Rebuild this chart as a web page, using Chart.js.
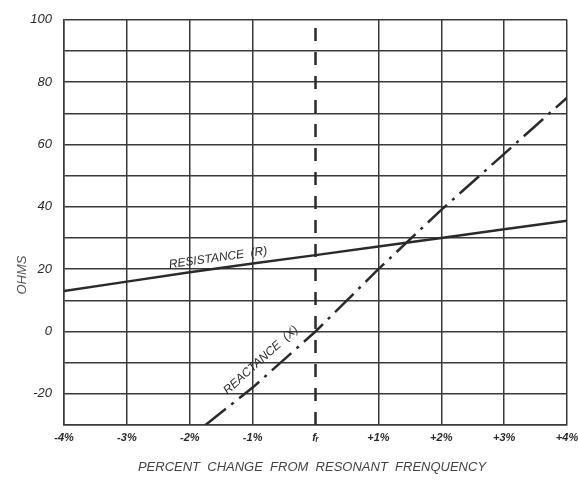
<!DOCTYPE html>
<html lang="en">
<head>
    <meta charset="UTF-8">
    <title>Resistance and Reactance near Resonance</title>
    <script src="https://cdn.jsdelivr.net/npm/chart.js"></script>
    <style>
        html, body {
            margin: 0;
            padding: 0;
            background-color: #ffffff;
        }

        .chart-container {
            position: relative;
            width: 578px;
            height: 483px;
        }
    </style>
</head>
<body>
    <div class="chart-container">
        <canvas id="ohms-chart"></canvas>
    </div>

    <script>
        // Values
        const percentTicks = [-4, -3, -2, -1, 0, 1, 2, 3, 4];
        const percentLabels = ['-4%', '-3%', '-2%', '-1%', 'fᵣ', '+1%', '+2%', '+3%', '+4%'];

        const resistanceX = [-4, -3, -2, -1, 0, 1, 2, 3, 4];
        const resistanceY = [13, 16, 19, 21.8, 24.5, 27.3, 30, 32.8, 35.5];

        const reactanceX = [-1.75, -1, 0, 1, 2, 3, 4];
        const reactanceY = [-30, -18, 0, 20, 39, 57, 75];

        const resonanceX = [0, 0];
        const resonanceY = [-30, 100];

        const ink = '#2a2a2a';
        const gridInk = '#3a3a3a';
        const fontFamily = "'Liberation Sans', 'DejaVu Sans', sans-serif";

        const toPoints = (xs, ys) => xs.map((x, i) => ({ x: x, y: ys[i] }));

        // Writes the curve names along the lines and the axis titles
        const annotations = {
            id: 'annotations',
            afterDatasetsDraw(chart) {
                const { ctx, scales: { x, y } } = chart;

                function labelAt(text, px, py, angleDeg) {
                    ctx.save();
                    ctx.translate(x.getPixelForValue(px), y.getPixelForValue(py));
                    ctx.rotate(angleDeg * Math.PI / 180);
                    ctx.fillStyle = ink;
                    ctx.font = `italic 12px ${fontFamily}`;
                    ctx.textAlign = 'center';
                    ctx.textBaseline = 'middle';
                    ctx.fillText(text, 0, 0);
                    ctx.restore();
                }

                labelAt('RESISTANCE  (R)', -1.55, 23.6, -8);
                labelAt('REACTANCE  (X)', -0.87, -9.2, -42);

                ctx.save();
                ctx.fillStyle = '#444';
                ctx.font = `italic 13px ${fontFamily}`;
                ctx.textAlign = 'center';
                ctx.textBaseline = 'middle';
                ctx.fillText('PERCENT  CHANGE  FROM  RESONANT  FRENQUENCY', 312, 467);
                ctx.fillStyle = '#555';
                ctx.translate(22, 275);
                ctx.rotate(-Math.PI / 2);
                ctx.fillText('OHMS', 0, 0);
                ctx.restore();
            }
        };

        const ctxOhms = document.getElementById('ohms-chart').getContext('2d');
        const ohmsChart = new Chart(ctxOhms, {
            type: 'line',
            data: {
                datasets: [
                    {
                        label: 'Resistance (R)',
                        data: toPoints(resistanceX, resistanceY),
                        borderColor: ink,
                        borderWidth: 2.5,
                        pointRadius: 0,
                        tension: 0
                    },
                    {
                        label: 'Reactance (X)',
                        data: toPoints(reactanceX, reactanceY),
                        borderColor: ink,
                        borderWidth: 2.5,
                        borderDash: [26, 7, 3, 7],
                        pointRadius: 0,
                        tension: 0
                    },
                    {
                        label: 'fr',
                        data: toPoints(resonanceX, resonanceY),
                        borderColor: ink,
                        borderWidth: 2.5,
                        borderDash: [13, 11],
                        pointRadius: 0,
                        tension: 0
                    }
                ]
            },
            options: {
                responsive: true,
                maintainAspectRatio: false,
                animation: false,
                layout: {
                    padding: { left: 0, right: 11, top: 16, bottom: 0 }
                },
                plugins: {
                    legend: { display: false },
                    tooltip: { enabled: false }
                },
                scales: {
                    x: {
                        type: 'linear',
                        min: -4,
                        max: 4,
                        afterFit: (scale) => {
                            scale.height = 58;
                            scale.paddingLeft = 0;
                            scale.paddingRight = 0;
                        },
                        afterBuildTicks: (scale) => {
                            scale.ticks = percentTicks.map(v => ({ value: v }));
                        },
                        ticks: {
                            color: ink,
                            padding: 6,
                            maxRotation: 0,
                            font: { family: fontFamily, size: 11, style: 'italic', weight: 'bold' },
                            callback: (value) => percentLabels[percentTicks.indexOf(value)]
                        },
                        grid: {
                            // no solid gridline at resonance, only the dashed marker
                            color: (c) => (c.tick && c.tick.value === 0 ? 'rgba(0,0,0,0)' : gridInk),
                            lineWidth: 1.5,
                            drawTicks: false
                        },
                        border: { color: gridInk, width: 1.5 }
                    },
                    y: {
                        min: -30,
                        max: 100,
                        afterFit: (scale) => { scale.width = 64; },
                        ticks: {
                            stepSize: 10,
                            color: ink,
                            padding: 12,
                            font: { family: fontFamily, size: 13, style: 'italic' },
                            callback: (value) => (value % 20 === 0 ? value : '')
                        },
                        grid: {
                            color: gridInk,
                            lineWidth: 1.5,
                            drawTicks: false
                        },
                        border: { color: gridInk, width: 1.5 }
                    }
                }
            },
            plugins: [annotations]
        });
    </script>
</body>
</html>
